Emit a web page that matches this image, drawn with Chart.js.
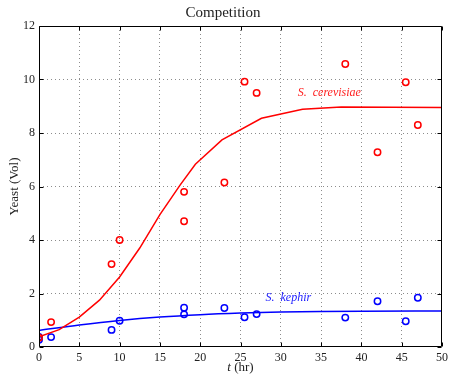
<!DOCTYPE html>
<html>
<head>
<meta charset="utf-8">
<script src="https://cdn.jsdelivr.net/npm/chart.js@4"></script>
<style>
html,body{margin:0;padding:0;background:#fff;}
canvas{display:block;}
</style>
</head>
<body>
<canvas id="c" width="452" height="375"></canvas>
<script>
// Observed data: S. cerevisiae
const cerTimes = [0, 1.5, 9, 10, 18, 18, 23, 25.5, 27, 38, 42, 45.5, 47];
const cerVol   = [0.35, 0.93, 3.1, 4.0, 5.8, 4.7, 6.15, 9.92, 9.5, 10.58, 7.28, 9.9, 8.3];
// Observed data: S. kephir
const kepTimes = [0, 0, 1.5, 9, 10, 18, 18, 23, 25.5, 27, 38, 42, 45.5, 47];
const kepVol   = [0.38, 0.27, 0.37, 0.64, 0.98, 1.47, 1.22, 1.46, 1.11, 1.23, 1.1, 1.71, 0.96, 1.84];
// Model curves
const cerModelT = [0, 2.5, 5, 7.5, 10, 12.5, 15, 17.5, 19.4, 22.7, 27.6, 32.7, 37.5, 50];
const cerModelV = [0.38, 0.65, 1.12, 1.75, 2.62, 3.7, 4.95, 6.05, 6.83, 7.74, 8.55, 8.89, 8.97, 8.95];
const kepModelT = [0, 5, 10, 15, 20, 25, 30, 35, 40, 50];
const kepModelV = [0.62, 0.82, 0.99, 1.12, 1.21, 1.27, 1.31, 1.33, 1.34, 1.35];
// Axis ticks
const xTicks = [0, 5, 10, 15, 20, 25, 30, 35, 40, 45, 50];
const yTicks = [0, 2, 4, 6, 8, 10, 12];
// Labels
const titleText = 'Competition';
const yLabel = 'Yeast (Vol)';
const annotations = [
  {text: 'S.  cerevisiae', x: 32.1, y: 9.5, color: '#ff2020'},
  {text: 'S.  kephir', x: 28.1, y: 1.83, color: '#2020ff'}
];

const toPts = (xs, ys) => xs.map((x, i) => ({x: x, y: ys[i]}));
const SERIF = "'Liberation Serif', 'DejaVu Serif', serif";

const framePlugin = {
  id: 'frame',
  afterDraw(chart) {
    const {ctx, chartArea: a, scales: {x, y}} = chart;
    ctx.save();
    ctx.strokeStyle = '#000';
    ctx.lineWidth = 1;
    ctx.beginPath();
    const L = Math.round(a.left) + 0.5, R = Math.round(a.right) - 0.5;
    const T = Math.round(a.top) + 0.5, B = Math.round(a.bottom) - 0.5;
    ctx.rect(L, T, R - L, B - T);
    const tl = 4;
    xTicks.forEach(v => {
      const px = Math.round(x.getPixelForValue(v)) + 0.5;
      ctx.moveTo(px, B); ctx.lineTo(px, B - tl);
      ctx.moveTo(px, T); ctx.lineTo(px, T + tl);
    });
    yTicks.forEach(v => {
      const py = Math.round(y.getPixelForValue(v)) + 0.5;
      ctx.moveTo(L, py); ctx.lineTo(L + tl, py);
      ctx.moveTo(R, py); ctx.lineTo(R - tl, py);
    });
    ctx.stroke();
    // annotations
    ctx.font = 'italic 12px ' + SERIF;
    ctx.textBaseline = 'middle';
    ctx.textAlign = 'left';
    annotations.forEach(an => {
      ctx.fillStyle = an.color;
      ctx.fillText(an.text, x.getPixelForValue(an.x), y.getPixelForValue(an.y));
    });
    // x axis label: italic t + (hr)
    const cx = (a.left + a.right) / 2;
    const ly = 368;
    ctx.fillStyle = '#222';
    ctx.font = 'italic 13px ' + SERIF;
    const w1 = ctx.measureText('t').width;
    ctx.font = '13px ' + SERIF;
    const w2 = ctx.measureText(' (hr)').width;
    const sx = cx - (w1 + w2) / 2;
    ctx.font = 'italic 13px ' + SERIF;
    ctx.fillText('t', sx, ly);
    ctx.font = '13px ' + SERIF;
    ctx.fillText(' (hr)', sx + w1, ly);
    ctx.restore();
  }
};

new Chart(document.getElementById('c'), {
  type: 'scatter',
  data: {
    datasets: [
      {label: 'S. cerevisiae model', data: toPts(cerModelT, cerModelV), showLine: true, borderColor: '#ff0000', borderWidth: 1.5, pointRadius: 0, fill: false, tension: 0},
      {label: 'S. kephir model', data: toPts(kepModelT, kepModelV), showLine: true, borderColor: '#0000ff', borderWidth: 1.5, pointRadius: 0, fill: false, tension: 0, cubicInterpolationMode: 'monotone'},
      {label: 'S. cerevisiae', data: toPts(cerTimes, cerVol), showLine: false, borderColor: '#ff0000', backgroundColor: 'rgba(0,0,0,0)', pointRadius: 3.2, pointBorderWidth: 1.5},
      {label: 'S. kephir', data: toPts(kepTimes, kepVol), showLine: false, borderColor: '#0000ff', backgroundColor: 'rgba(0,0,0,0)', pointRadius: 3.2, pointBorderWidth: 1.5}
    ]
  },
  options: {
    responsive: false,
    animation: false,
    layout: {padding: {top: 0, right: 6, bottom: 0, left: 0}},
    plugins: {
      legend: {display: false},
      tooltip: {enabled: false},
      title: {display: true, text: titleText, color: '#222', font: {family: SERIF, size: 15, weight: 'normal', lineHeight: 1.2}, padding: {top: 4, bottom: 4}}
    },
    scales: {
      x: {
        type: 'linear', min: 0, max: 50,
        afterFit(s) { s.height = 28; },
        afterBuildTicks(s) { s.ticks = xTicks.map(v => ({value: v})); },
        ticks: {color: '#222', padding: 4, font: {family: SERIF, size: 12}, maxRotation: 0},
        grid: {color: ctx => (ctx.tick && (ctx.tick.value === 0 || ctx.tick.value === 50)) ? 'rgba(0,0,0,0)' : 'rgba(0,0,0,0.45)', drawTicks: false, lineWidth: 1},
        border: {display: false, dash: [1, 3]}
      },
      y: {
        type: 'linear', min: 0, max: 12,
        afterFit(s) { s.width = 39; },
        afterBuildTicks(s) { s.ticks = yTicks.map(v => ({value: v})); },
        ticks: {color: '#222', padding: 4, font: {family: SERIF, size: 12}},
        title: {display: true, text: yLabel, color: '#222', font: {family: SERIF, size: 13}, padding: {top: 7, bottom: 0}},
        grid: {color: ctx => (ctx.tick && (ctx.tick.value === 0 || ctx.tick.value === 12)) ? 'rgba(0,0,0,0)' : 'rgba(0,0,0,0.45)', drawTicks: false, lineWidth: 1},
        border: {display: false, dash: [1, 3]}
      }
    }
  },
  plugins: [framePlugin]
});
</script>
</body>
</html>
